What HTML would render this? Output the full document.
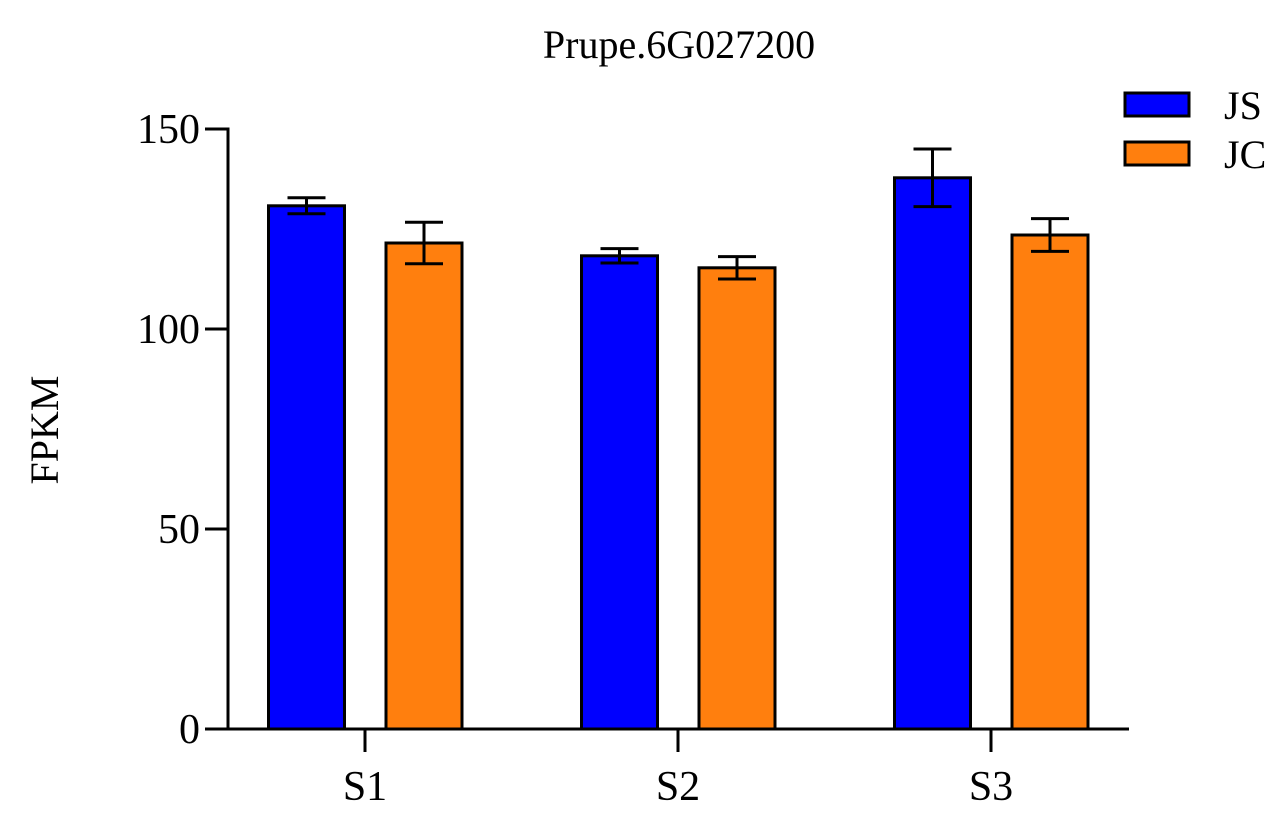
<!DOCTYPE html>
<html><head><meta charset="utf-8"><style>
body{margin:0;background:#fff}
svg text{font-family:"Liberation Serif",serif;fill:#000}
</style></head><body>
<svg id="chart" width="1284" height="813" viewBox="0 0 1284 813" xmlns="http://www.w3.org/2000/svg">
<text x="679" y="58" font-size="40" text-anchor="middle">Prupe.6G027200</text>
<text transform="translate(58,430) rotate(-90)" font-size="40" text-anchor="middle">FPKM</text>
<g id="plot"></g>
<g>
<rect x="1125" y="93" width="64" height="23" fill="#0000FF" stroke="#000" stroke-width="3"/>
<text x="1224" y="119" font-size="40">JS</text>
<rect x="1125" y="142" width="64" height="23" fill="#FF7F0E" stroke="#000" stroke-width="3"/>
<text x="1224" y="168" font-size="40">JC</text>
</g>
</svg>
<script>
const categories=["S1","S2","S3"];
const jsValues=[130.8,118.3,137.8];
const jsErrors=[2,1.8,7.2];
const jcValues=[121.5,115.3,123.5];
const jcErrors=[5.2,2.8,4.1];
const yTicks=[0,50,100,150];
const NS="http://www.w3.org/2000/svg";
const g=document.getElementById("plot");
const y=v=>729-v*4;
const xc=i=>365+i*313;
function el(t,a){const e=document.createElementNS(NS,t);for(const k in a)e.setAttribute(k,a[k]);g.appendChild(e);return e;}
let ax=el("line",{x1:228,y1:127.5,x2:228,y2:730.5,stroke:"#000","stroke-width":3});


let bx=el("line",{x1:226.5,y1:729,x2:1129,y2:729,stroke:"#000","stroke-width":3});


yTicks.forEach(t=>{
 const l=el("line",{x1:205,y1:y(t),x2:228,y2:y(t),stroke:"#000","stroke-width":3});
 
 
 const tx=el("text",{x:200,y:y(t)+14,"font-size":42,"text-anchor":"end"});tx.textContent=t;
 
 
});
categories.forEach((c,i)=>{
 const l=el("line",{x1:xc(i),y1:729,x2:xc(i),y2:752,stroke:"#000","stroke-width":3});
 
 
 const tx=el("text",{x:xc(i),y:800,"font-size":42,"text-anchor":"middle"});tx.textContent=c;
 
 
 [[jsValues,jsErrors,"#0000FF",-58.5,"js"],[jcValues,jcErrors,"#FF7F0E",59,"jc"]].forEach(([vals,errs,col,off,nm])=>{
  const cx=xc(i)+off,v=vals[i],e=errs[i];
  const r=el("rect",{x:cx-38,y:y(v),width:76,height:729-y(v),fill:col,stroke:"#000","stroke-width":3});
  
  
  const eb=el("path",{d:`M${cx},${y(v+e)}V${y(v-e)}M${cx-19},${y(v+e)}H${cx+19}M${cx-19},${y(v-e)}H${cx+19}`,stroke:"#000","stroke-width":3,fill:"none"});
  
  
 });
});
</script>
</body></html>
